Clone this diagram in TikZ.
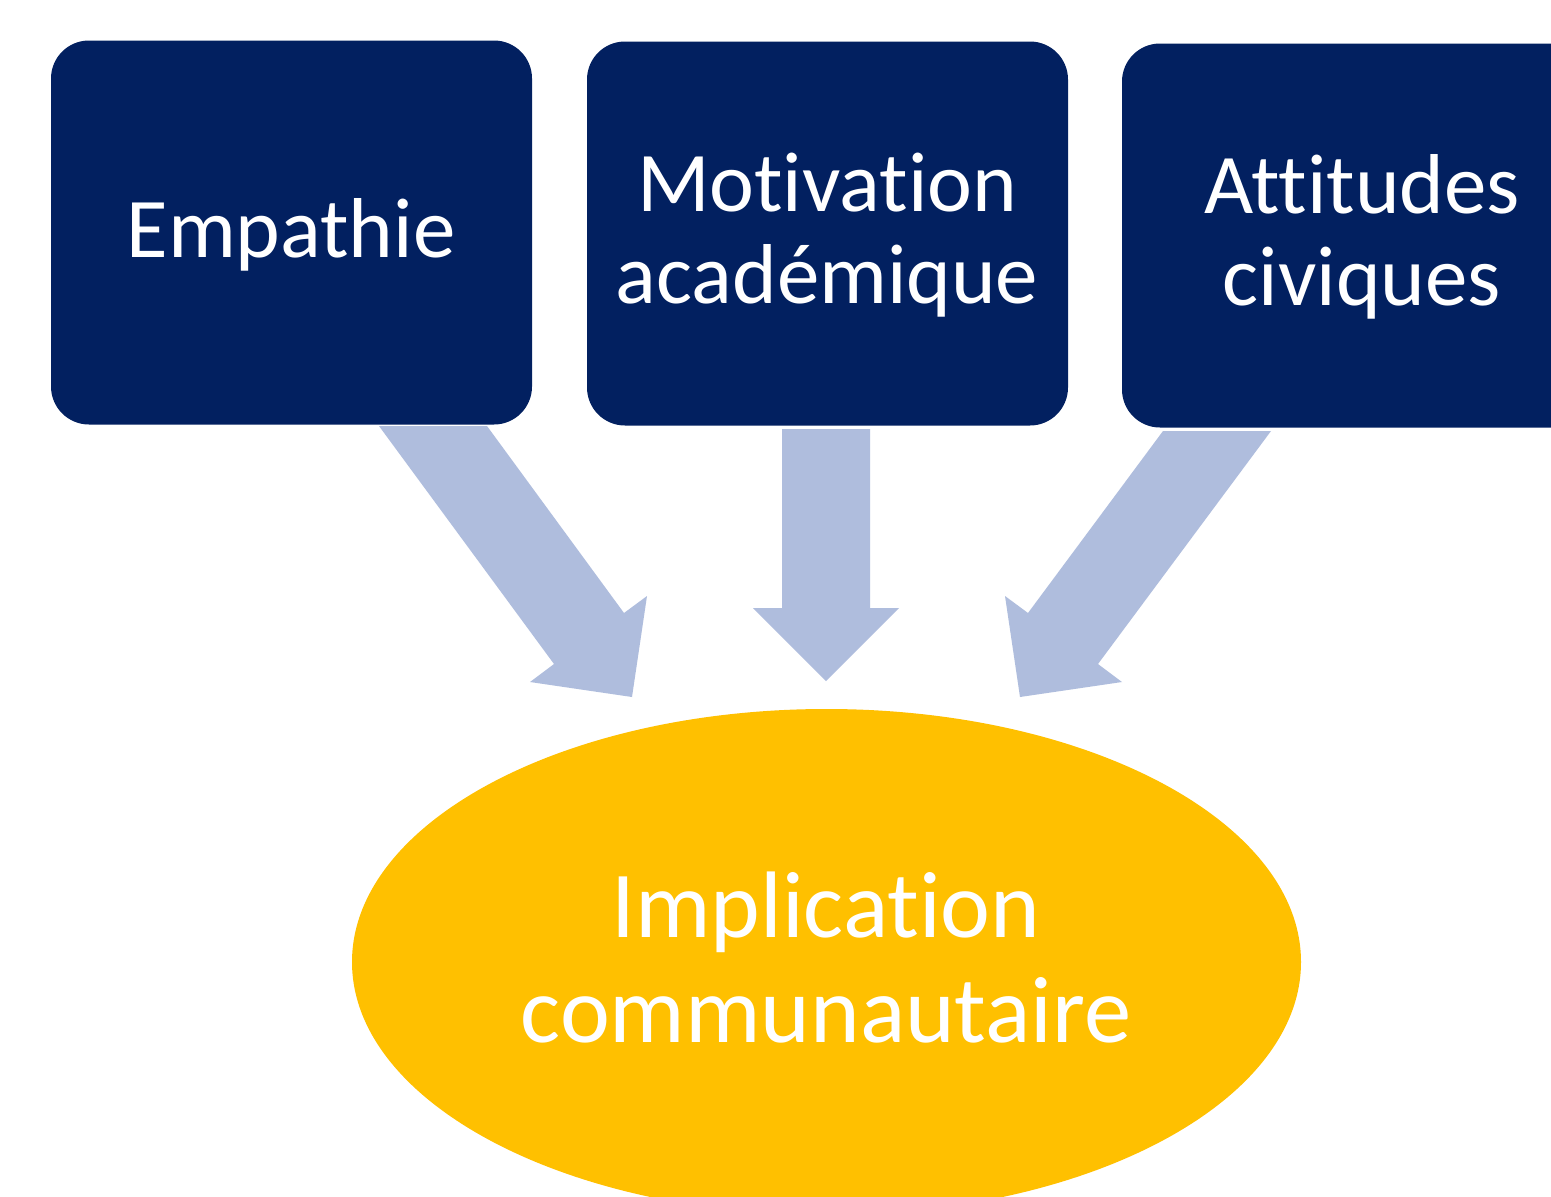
\documentclass[tikz,border=0pt]{standalone}
\usepackage{fontspec}
\setmainfont{Carlito}[Ligatures={NoCommon,NoContextual}]
\usetikzlibrary{shapes.geometric}
\definecolor{navy}{RGB}{2,32,96}
\definecolor{arrowblue}{RGB}{175,189,221}
\definecolor{amber}{RGB}{255,192,0}
\begin{document}
\begin{tikzpicture}[x=1pt,y=-1pt,
  boxnode/.style={draw=none, fill=navy, rounded corners=38pt, minimum width=481pt, minimum height=384pt, inner sep=0pt},
  lbl/.style={text=white, font=\fontsize{85}{92}\selectfont, anchor=base, inner sep=0pt},
  biglbl/.style={text=white, font=\fontsize{94.5}{105}\selectfont, anchor=base, inner sep=0pt},
  fatarrow/.style={fill=arrowblue, draw=none}]
\clip (0,0) rectangle (1551,1197);
\fill[white] (0,0) rectangle (1551,1197);
% boxes
\node[boxnode] (b1) at (291.5,232.5) {};
\node[boxnode] (b2) at (827.5,233.5) {};
\node[boxnode] (b3) at (1362.5,235.5) {};
% goal ellipse
\node[ellipse, fill=amber, draw=none, minimum width=949pt, minimum height=506pt, inner sep=0pt] (goal) at (826.5,962) {};
% block arrows
\fill[fatarrow] (379,426) -- (487,426) -- (624,613) -- (647,596) -- (632,697) -- (530,682) -- (554,664) -- cycle;
\fill[fatarrow] (782,429) -- (870,429) -- (870,608) -- (899,608) -- (826,681) -- (753,608) -- (782,608) -- cycle;
\fill[fatarrow] (1271,431) -- (1163,431) -- (1028,613) -- (1005,596) -- (1020,697) -- (1122,682) -- (1098,664) -- cycle;
% labels
\node[lbl] (t1) at (291,257) {Empathie};
\node[lbl] (t2a) at (827,211) {Motivation};
\node[lbl] (t2b) at (827,303) {académique};
\node[lbl] (t3a) at (1362,213) {Attitudes};
\node[lbl] (t3b) at (1362,305) {civiques};
\node[biglbl] (g1) at (826,937) {Implication};
\node[biglbl] (g2) at (826,1042) {communautaire};
\end{tikzpicture}
\end{document}
